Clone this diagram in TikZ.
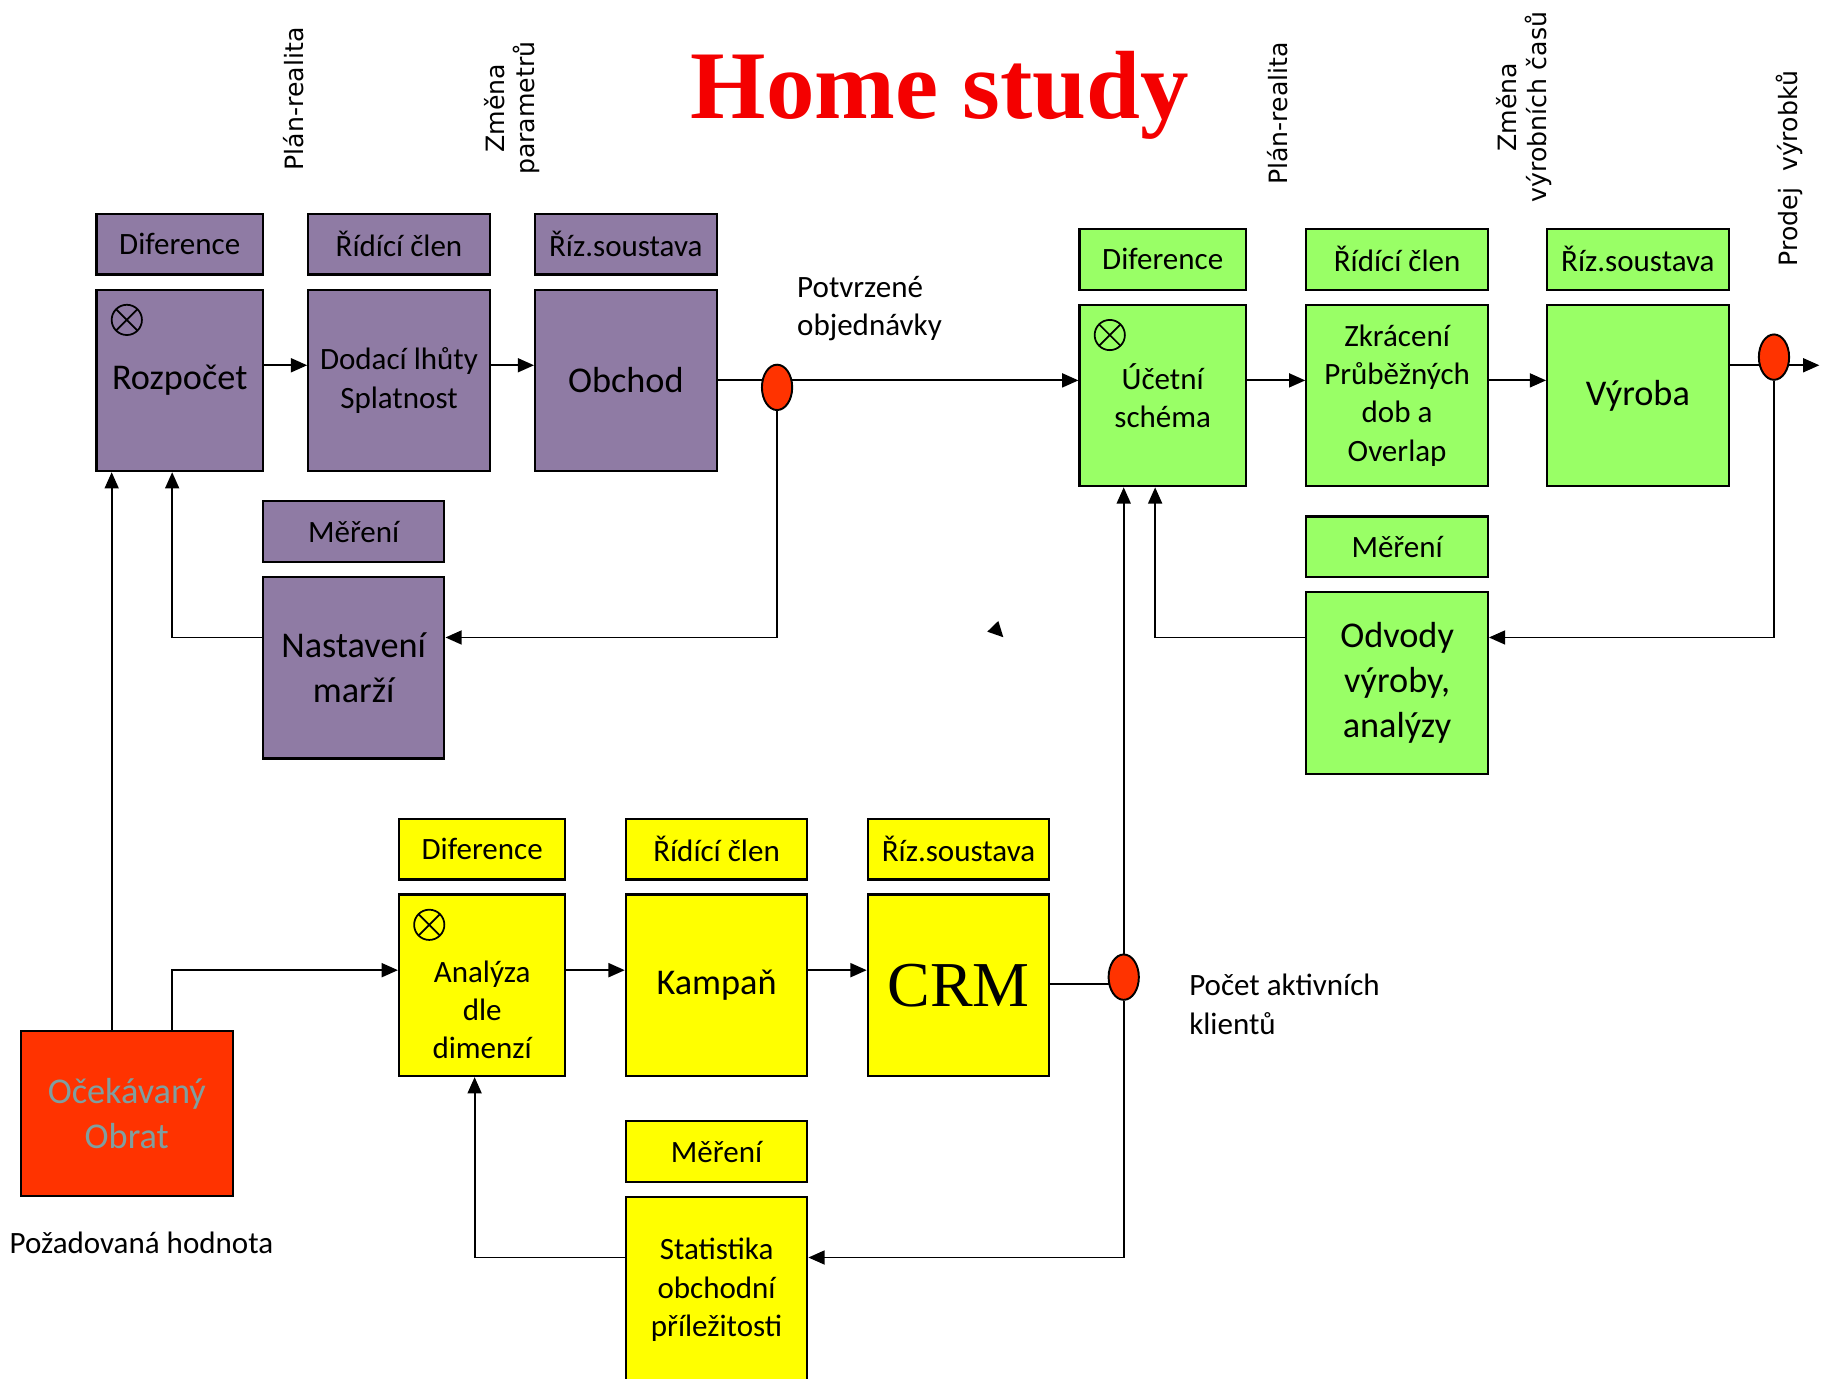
\documentclass[tikz,border=0pt]{standalone}
\usepackage{fontspec}
\setmainfont{Carlito}
\newfontfamily\vertfont{DejaVu Sans}
\newfontfamily\nadpisfont{Liberation Serif}
\usetikzlibrary{arrows.meta,shapes.geometric,backgrounds}

\definecolor{fialova}{HTML}{8F7BA4}
\definecolor{zelena}{HTML}{99FF66}
\definecolor{zluta}{HTML}{FFFF00}
\definecolor{cervena}{HTML}{FF3300}
\definecolor{sedomodra}{HTML}{7F9FA0}
\definecolor{nadpis}{HTML}{F40000}

\begin{document}
\begin{tikzpicture}[x=0.6pt,y=-0.6pt,
    drobny/.style={font=\fontsize{16pt}{19.8pt}\selectfont},
    vetsi/.style={font=\fontsize{18.7pt}{23.4pt}\selectfont},
    blok/.style={draw=black,line width=1.1pt,inner sep=2pt,align=center,drobny},
    popis/.style={blok,minimum height=31.2pt},
    velky/.style={blok,minimum height=93.6pt},
    uzky/.style={minimum width=85.8pt},
    siroky/.style={minimum width=93.6pt},
    bod/.style={ellipse,draw=black,line width=1pt,fill=cervena,minimum width=15.6pt,minimum height=23.4pt,inner sep=0pt},
    soucet/.style={circle,draw=black,line width=0.9pt,minimum size=15.6pt,inner sep=0pt,
        path picture={\draw[line width=0.9pt] (path picture bounding box.north west) -- (path picture bounding box.south east)
            (path picture bounding box.north east) -- (path picture bounding box.south west);}},
    spoj/.style={line width=1pt},
    sip/.style={spoj,-{Triangle[length=8.4pt,width=7.2pt]}},
    svisle/.style={rotate=90,align=center,font=\vertfont\fontsize{13pt}{15.6pt}\selectfont},
    poznamka/.style={anchor=west,align=left,inner sep=0pt,drobny}
    ] %Home study
    \useasboundingbox (0,0) rectangle (1568,1185);

    \node[anchor=base,text=nadpis,font=\nadpisfont\bfseries\fontsize{50pt}{60pt}\selectfont] (nadpis) at (808,101.5) {Home study};

    \node[svisle] (planA) at (252,85) {Plán-realita};
    \node[svisle] (zmenaA) at (440,93) {Změna\\parametrů};
    \node[svisle] (planB) at (1098,97.5) {Plán-realita};
    \node[svisle] (zmenaB) at (1310,92) {Změna\\výrobních časů};
    \node[svisle] (prodej) at (1538,145) {Prodej\ \ výrobků};

    % obchod
    \node[popis,uzky,fill=fialova] (pDif) at (154.5,210) {Diference};
    \node[popis,siroky,fill=fialova] (pRid) at (343,210) {Řídící člen};
    \node[popis,siroky,fill=fialova] (pRiz) at (538,210) {Říz.soustava};
    \node[velky,uzky,fill=fialova,vetsi] (pRoz) at (154.5,327) {Rozpočet};
    \node[velky,siroky,fill=fialova] (pDod) at (343,327) {Dodací lhůty\\Splatnost};
    \node[velky,siroky,fill=fialova,vetsi] (pObc) at (538,327) {Obchod};
    \node[popis,siroky,fill=fialova] (pMer) at (304,457) {Měření};
    \node[velky,siroky,fill=fialova,vetsi] (pNas) at (304,574) {Nastavení\\marží};
    \node[soucet] (pSum) at (109,275) {};
    \node[bod] (pBod) at (668,333) {};

    % vyroba
    \node[popis,uzky,fill=zelena] (gDif) at (999.5,223) {Diference};
    \node[popis,siroky,fill=zelena] (gRid) at (1201,223) {Řídící člen};
    \node[popis,siroky,fill=zelena] (gRiz) at (1408,223) {Říz.soustava};
    \node[velky,uzky,fill=zelena] (gUce) at (999.5,340) {Účetní\\schéma};
    \node[velky,siroky,fill=zelena] (gZkr) at (1201,340) {Zkrácení\\Průběžných\\dob a\\Overlap};
    \node[velky,siroky,fill=zelena,vetsi] (gVyr) at (1408,340) {Výroba};
    \node[popis,siroky,fill=zelena] (gMer) at (1201,470) {Měření};
    \node[velky,siroky,fill=zelena,vetsi] (gOdv) at (1201,587) {Odvody\\výroby,\\analýzy};
    \node[soucet] (gSum) at (954,288) {};
    \node[bod] (gBod) at (1525,307) {};

    % CRM
    \node[popis,uzky,fill=zluta] (yDif) at (414.5,730) {Diference};
    \node[popis,siroky,fill=zluta] (yRid) at (616,730) {Řídící člen};
    \node[popis,siroky,fill=zluta] (yRiz) at (824,730) {Říz.soustava};
    \node[velky,uzky,fill=zluta,label={[align=center,drobny,yshift=-12.6pt]center:{Analýza\\dle\\dimenzí}}] (yAna) at (414.5,847) {};
    \node[velky,siroky,fill=zluta,vetsi] (yKam) at (616,847) {Kampaň};
    \node[velky,siroky,fill=zluta,font=\nadpisfont\fontsize{33pt}{36pt}\selectfont] (yCrm) at (824,847) {CRM};
    \node[popis,siroky,fill=zluta] (yMer) at (616,990) {Měření};
    \node[blok,siroky,minimum height=96pt,fill=zluta] (ySta) at (616,1109) {Statistika\\obchodní\\příležitosti};
    \node[soucet] (ySum) at (369,795) {};
    \node[bod] (yBod) at (966,840) {};

    \node[blok,minimum width=109.2pt,minimum height=85.2pt,fill=cervena,text=sedomodra,vetsi] (obrat) at (109,957) {Očekávaný\\Obrat};

    \node[poznamka] (potvrz) at (685,265) {Potvrzené\\objednávky};
    \node[poznamka] (pocet) at (1022,863.5) {Počet aktivních\\klientů};
    \node[poznamka] (pozad) at (8,1068) {Požadovaná hodnota};

    \coordinate (pOsaA) at (0,314);
    \coordinate (pOsaB) at (0,327);
    \coordinate (zpet) at (0,548);
    \coordinate (yOsa) at (0,834);
    \coordinate (yVystup) at (0,846);
    \coordinate (yZpet) at (0,1081);
    \coordinate (oA) at (96,0);
    \coordinate (oB) at (148,0);
    \coordinate (gZpetX) at (993,0);
    \coordinate (yZpetX) at (408,0);
    \coordinate (gVystup) at (1564,314);

    \begin{scope}[on background layer]
    \draw[sip] (pRoz.east |- pOsaA) -- (pDod.west |- pOsaA);
    \draw[sip] (pDod.east |- pOsaA) -- (pObc.west |- pOsaA);
    \draw[sip] (pObc.east |- pOsaB) -- (gUce.west |- pOsaB);
    \draw[sip] (pBod.south) |- (pNas.east |- zpet);
    \draw[sip] (pNas.west |- zpet) -| (pRoz.south -| oB);
    \draw[sip] (obrat.north -| oA) -- (pRoz.south -| oA);
    \draw[sip] (obrat.north -| oB) |- (yAna.west |- yOsa);

    \draw[sip] (gUce.east |- pOsaB) -- (gZkr.west |- pOsaB);
    \draw[sip] (gZkr.east |- pOsaB) -- (gVyr.west |- pOsaB);
    \draw[sip] (gVyr.east |- gVystup) -- (gVystup);
    \draw[sip] (gBod.south) |- (gOdv.east |- zpet);
    \draw[sip] (gOdv.west |- zpet) -| (gUce.south -| gZpetX);
    \draw[sip] (yBod.north) -- (gUce.south -| yBod.north);

    \draw[sip] (yAna.east |- yOsa) -- (yKam.west |- yOsa);
    \draw[sip] (yKam.east |- yOsa) -- (yCrm.west |- yOsa);
    \draw[spoj] (yCrm.east |- yVystup) -- (yBod |- yVystup);
    \draw[sip] (yBod.south) |- (ySta.east |- yZpet);
    \draw[sip] (ySta.west |- yZpet) -| (yAna.south -| yZpetX);
    \end{scope}

    \fill (848.7,543) -- (858.2,533.8) -- (862.5,547.8) -- cycle;
\end{tikzpicture}
\end{document}
